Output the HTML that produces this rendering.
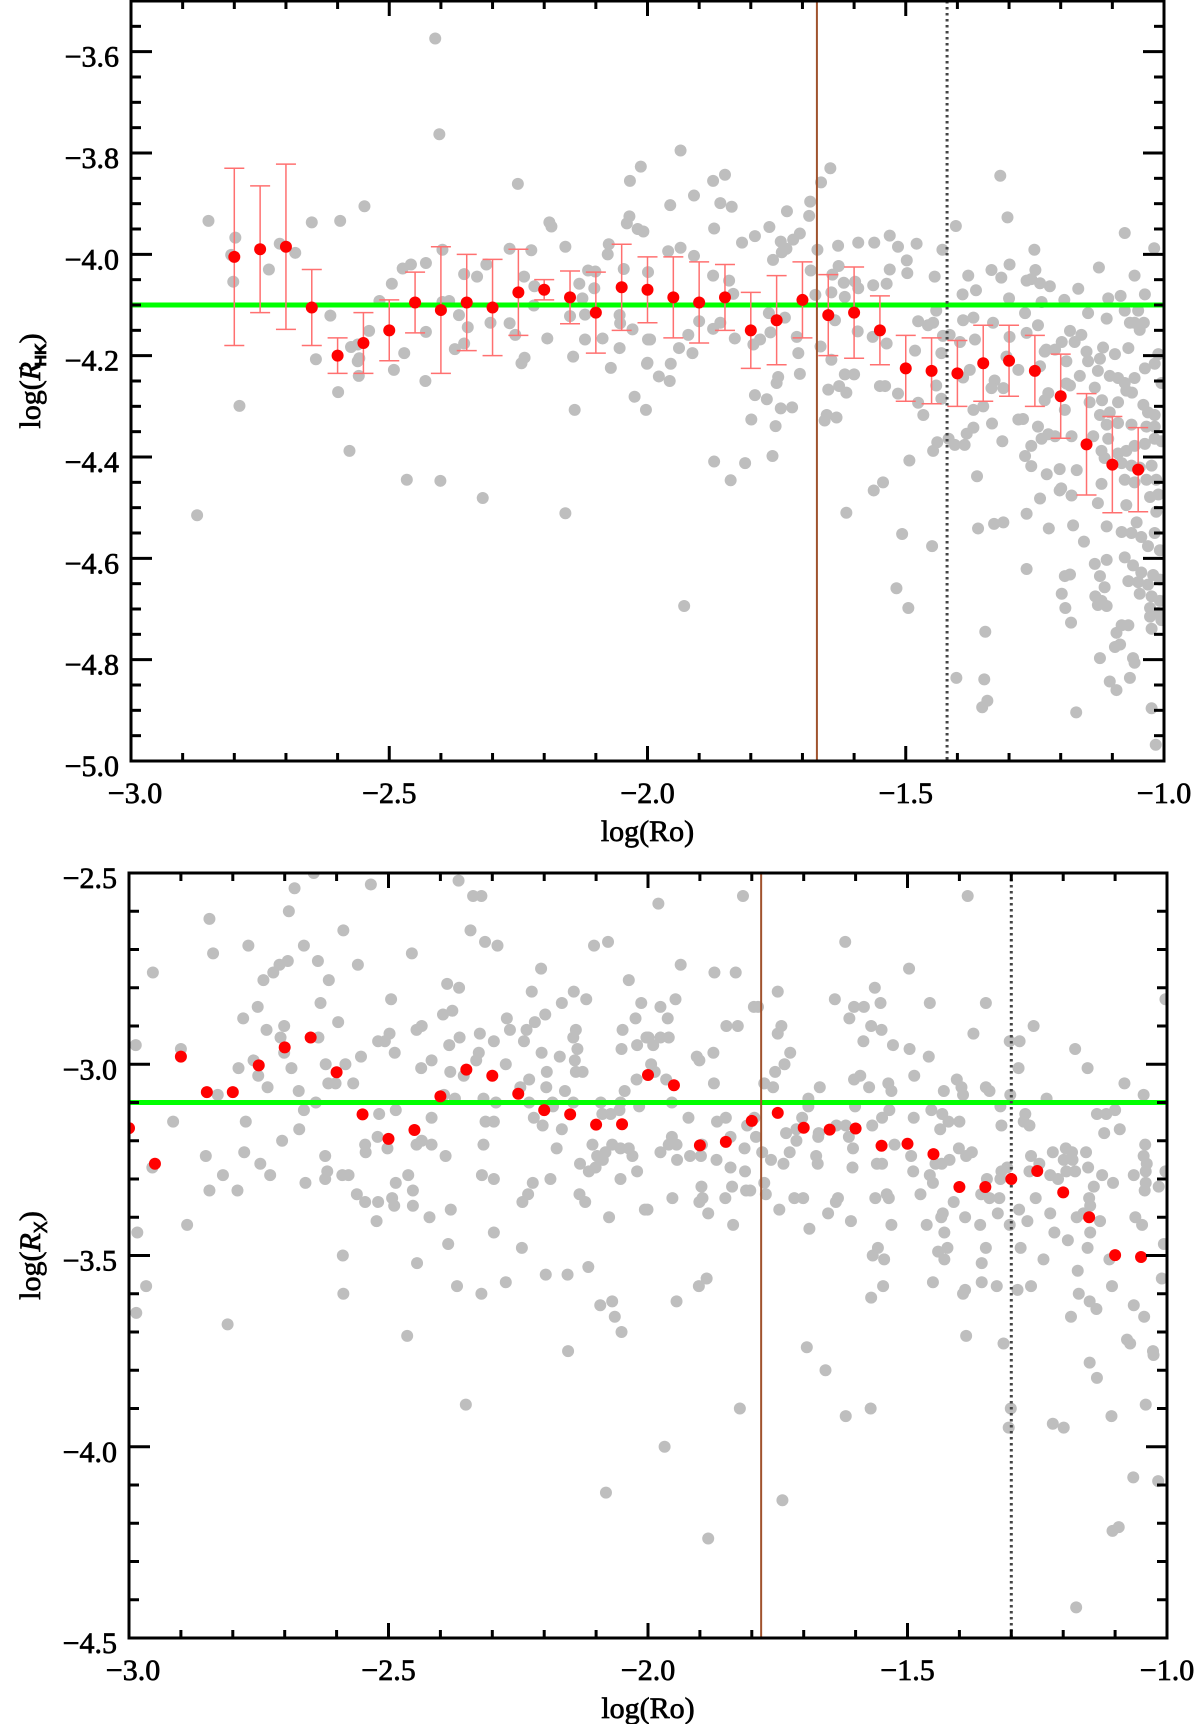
<!DOCTYPE html>
<html>
<head>
<meta charset="utf-8">
<style>
  html,body{margin:0;padding:0;background:#fff;}
  svg{display:block;}
  text{font-family:"Liberation Serif","DejaVu Serif",serif;fill:#000;}
  .lbl text, text.lbl{stroke:#000;stroke-width:0.7px;}
</style>
</head>
<body>
<svg id="chart" width="1200" height="1724" viewBox="0 0 1200 1724" xmlns="http://www.w3.org/2000/svg">
  <g id="panelTop"></g>
  <g id="panelBot"></g>
</svg>
<script>
// ---------------- TOP PANEL DATA: log(R'HK) vs log(Ro) ----------------
const topBinX = [-2.80,-2.75,-2.70,-2.65,-2.60,-2.55,-2.50,-2.45,-2.40,-2.35,-2.30,-2.25,-2.20,-2.15,-2.10,-2.05,-2.00,-1.95,-1.90,-1.85,-1.80,-1.75,-1.70,-1.65,-1.60,-1.55,-1.50,-1.45,-1.40,-1.35,-1.30,-1.25,-1.20,-1.15,-1.10,-1.05];
const topBinY = [-4.005,-3.99,-3.985,-4.105,-4.20,-4.175,-4.15,-4.095,-4.11,-4.095,-4.105,-4.075,-4.07,-4.085,-4.115,-4.065,-4.07,-4.085,-4.095,-4.085,-4.15,-4.13,-4.09,-4.12,-4.115,-4.15,-4.225,-4.23,-4.235,-4.215,-4.21,-4.23,-4.28,-4.375,-4.415,-4.425];
const topBinErr = [0.175,0.125,0.163,0.075,0.035,0.06,0.06,0.06,0.125,0.095,0.095,0.085,0.02,0.052,0.08,0.085,0.065,0.08,0.08,0.065,0.075,0.088,0.075,0.08,0.09,0.068,0.065,0.065,0.065,0.075,0.07,0.07,0.083,0.1,0.095,0.083];
const topGray = [
[-2.850,-3.934],[-2.872,-4.515],[-2.798,-3.967],[-2.806,-4.001],[-2.802,-4.054],[-2.79,-4.299],[-2.712,-3.979],[-2.733,-4.030],[-2.682,-3.997],[-2.65,-3.937],
[-2.595,-3.934],[-2.548,-3.905],[-2.614,-4.121],[-2.642,-4.207],[-2.599,-4.272],[-2.577,-4.388],[-2.574,-4.183],[-2.561,-4.178],[-2.558,-4.205],[-2.561,-4.211],
[-2.559,-4.240],[-2.539,-4.151],[-2.519,-4.092],[-2.495,-4.058],[-2.491,-4.228],[-2.474,-4.028],[-2.458,-4.020],[-2.429,-4.017],[-2.471,-4.195],[-2.466,-4.445],
[-2.429,-4.153],[-2.430,-4.250],[-2.411,-3.574],[-2.403,-3.763],[-2.397,-3.991],[-2.397,-4.094],[-2.384,-4.092],[-2.401,-4.447],[-2.365,-4.120],[-2.373,-4.187],
[-2.355,-4.039],[-2.330,-4.044],[-2.348,-4.144],[-2.355,-4.176],[-2.312,-4.020],[-2.304,-4.135],[-2.319,-4.481],[-2.267,-3.989],[-2.251,-3.861],[-2.239,-4.044],
[-2.225,-3.992],[-2.219,-4.063],[-2.220,-4.101],[-2.267,-4.136],[-2.256,-4.159],[-2.238,-4.204],[-2.244,-4.215],[-2.194,-4.166],[-2.190,-3.937],[-2.186,-3.945],
[-2.159,-3.985],[-2.150,-4.122],[-2.144,-4.202],[-2.141,-4.307],[-2.159,-4.511],[-2.132,-4.058],[-2.126,-4.087],[-2.121,-4.119],[-2.115,-4.032],[-2.101,-4.034],
[-2.103,-4.067],[-2.121,-4.168],[-2.087,-4.166],[-2.071,-4.224],[-2.075,-3.980],[-2.077,-4.000],[-2.054,-4.120],[-2.053,-4.136],[-2.054,-4.185],[-2.046,-4.029],
[-2.034,-3.855],[-2.013,-3.827],[-2.035,-3.925],[-2.040,-3.939],[-2.019,-3.950],[-2.008,-3.955],[-2.029,-4.148],[-2.025,-4.281],[-2.003,-4.307],[-2.001,-4.216],
[-1.999,-4.168],[-1.999,-4.035],
[-1.936,-3.795],[-1.995,-4.168],[-2.0,-4.214],[-1.978,-4.241],[-1.957,-4.250],[-1.955,-4.216],[-1.939,-4.185],[-1.956,-3.903],[-1.960,-3.994],[-1.936,-3.987],
[-1.910,-3.884],[-1.910,-4.003],[-1.900,-4.132],[-1.921,-4.159],[-1.913,-4.195],[-1.873,-3.855],[-1.850,-3.843],[-1.859,-3.899],[-1.837,-3.906],[-1.871,-3.949],
[-1.873,-4.042],[-1.842,-4.052],[-1.834,-4.078],[-1.873,-4.147],[-1.859,-4.135],[-1.831,-4.166],[-1.871,-4.409],[-1.839,-4.446],[-1.811,-4.412],[-1.929,-4.694],
[-1.817,-3.977],[-1.792,-3.964],[-1.764,-3.946],[-1.757,-4.011],[-1.765,-4.116],[-1.762,-4.154],[-1.782,-4.168],[-1.795,-4.178],[-1.792,-4.278],[-1.769,-4.286],
[-1.799,-4.326],[-1.750,-4.254],[-1.747,-4.242],[-1.752,-4.339],[-1.742,-4.304],[-1.720,-4.302],[-1.758,-4.398],[-1.742,-3.975],[-1.731,-3.989],[-1.740,-3.996],
[-1.718,-3.971],[-1.705,-3.959],[-1.730,-3.915],[-1.687,-3.924],[-1.685,-3.896],[-1.734,-4.125],[-1.711,-4.163],[-1.708,-4.195],[-1.705,-4.236],[-1.684,-4.032],
[-1.671,-3.991],[-1.675,-4.080],[-1.664,-3.858],[-1.646,-3.830],[-1.642,-4.040],[-1.631,-3.983],[-1.630,-4.023],[-1.620,-4.056],[-1.598,-4.054],[-1.644,-4.075],
[-1.618,-4.084],[-1.592,-3.977],[-1.592,-4.067],[-1.593,-4.152],[-1.637,-4.130],[-1.665,-4.182],[-1.644,-4.208],[-1.650,-4.267],[-1.629,-4.260],[-1.615,-4.273],
[-1.618,-4.237],[-1.600,-4.237],[-1.653,-4.317],[-1.657,-4.328],[-1.634,-4.322],[-1.615,-4.510],[-1.561,-3.977],[-1.531,-3.963],[-1.515,-3.985],[-1.498,-4.012],
[-1.497,-4.037],[-1.479,-3.979],[-1.531,-4.030],[-1.537,-4.058],[-1.563,-4.061],[-1.564,-4.163],[-1.537,-4.176],[-1.550,-4.260],[-1.540,-4.260],[-1.515,-4.275],
[-1.482,-4.190],[-1.476,-4.132],[-1.457,-4.140],[-1.447,-4.135],[-1.444,-4.044],[-1.429,-3.991],[-1.441,-4.111],[-1.428,-4.161],[-1.431,-4.195],[-1.441,-4.259],
[-1.431,-4.285],[-1.466,-4.317],[-1.476,-4.293],[-1.439,-4.371],[-1.447,-4.388],[-1.493,-4.407],[-1.544,-4.450],[-1.562,-4.466],[-1.507,-4.552],[-1.449,-4.576],
[-1.518,-4.659],[-1.495,-4.698],[-1.403,-3.944],[-1.379,-4.042],[-1.364,-4.071],[-1.390,-4.079],[-1.389,-4.130],[-1.369,-4.125],[-1.415,-4.159],[-1.395,-4.173],
[-1.366,-4.168],[-1.376,-4.228],[-1.389,-4.243],[-1.350,-4.300],[-1.369,-4.307],[-1.369,-4.342],[-1.382,-4.354],[-1.386,-4.376],[-1.405,-4.376],[-1.417,-4.364],
[-1.362,-4.438],[-1.360,-4.541],[-1.329,-4.532],[-1.311,-4.529],[-1.346,-4.745],[-1.402,-4.836],[-1.348,-4.839],[-1.352,-4.894],[-1.342,-4.881],[-1.317,-3.845],
[-1.303,-3.927],[-1.334,-4.031],[-1.315,-4.046],[-1.299,-4.020],[-1.300,-4.087],[-1.331,-4.135],[-1.299,-4.163],[-1.305,-4.202],[-1.328,-4.249],[-1.311,-4.264],
[-1.334,-4.264],[-1.333,-4.334],[-1.313,-4.369],[-1.282,-4.228],[-1.282,-4.326],[-1.273,-4.325],[-1.269,-4.398],[-1.257,-4.418],[-1.266,-4.512],[-1.266,-4.621],
[-1.251,-3.991],[-1.249,-4.031],[-1.257,-4.049],[-1.266,-4.052],[-1.240,-4.057],[-1.221,-4.063],[-1.237,-4.094],[-1.269,-4.116],[-1.244,-4.140],[-1.266,-4.155],
[-1.231,-4.192],[-1.228,-4.188],[-1.211,-4.188],[-1.198,-4.173],[-1.240,-4.221],[-1.231,-4.288],[-1.224,-4.274],[-1.244,-4.340],[-1.257,-4.378],[-1.237,-4.364],
[-1.224,-4.355],[-1.211,-4.359],[-1.227,-4.434],[-1.240,-4.482],[-1.223,-4.541],[-1.202,-4.424],[-1.202,-4.466],[-1.199,-4.462],[-1.189,-4.211],[-1.189,-4.255],
[-1.182,-4.151],[-1.166,-4.068],[-1.160,-4.159],[-1.173,-4.173],[-1.193,-4.090],[-1.147,-4.116],[-1.150,-4.192],[-1.147,-4.211],[-1.163,-4.240],[-1.182,-4.259],
[-1.192,-4.307],[-1.179,-4.359],[-1.169,-4.426],[-1.179,-4.476],[-1.176,-4.535],[-1.155,-4.567],[-1.192,-4.635],[-1.182,-4.632],[-1.198,-4.670],[-1.191,-4.698],
[-1.180,-4.727],[-1.170,-4.904],[-1.126,-4.026],[-1.111,-4.127],[-1.108,-4.087],[-1.084,-4.082],[-1.076,-3.958],[-1.057,-4.042],[-1.037,-4.079],[-1.019,-3.988],
[-1.076,-4.111],[-1.050,-4.111],[-1.057,-4.135],[-1.039,-4.135],[-1.066,-4.135],[-1.047,-4.149],[-1.118,-4.184],[-1.095,-4.197],[-1.069,-4.185],[-1.124,-4.206],
[-1.128,-4.230],[-1.105,-4.240],[-1.089,-4.244],[-1.076,-4.254],[-1.057,-4.244],[-1.037,-4.225],[-1.011,-4.197],[-1.018,-4.216],[-1.005,-4.254],[-1.134,-4.263],
[-1.144,-4.292],[-1.120,-4.288],[-1.089,-4.292],[-1.073,-4.269],[-1.062,-4.273],[-1.040,-4.297],[-1.031,-4.312],[-1.018,-4.317],[-1.124,-4.317],[-1.105,-4.312],
[-1.111,-4.336],[-1.089,-4.333],[-1.063,-4.336],[-1.034,-4.340],[-1.018,-4.340],[-1.137,-4.359],[-1.108,-4.364],[-1.121,-4.388],[-1.089,-4.393],[-1.073,-4.388],
[-1.057,-4.378],[-1.037,-4.374],[-1.018,-4.364],[-1.005,-4.369],[-1.115,-4.402],[-1.082,-4.412],[-1.063,-4.417],[-1.047,-4.421],[-1.024,-4.417],[-1.076,-4.445],
[-1.057,-4.450],[-1.034,-4.445],[-1.015,-4.445],[-1.121,-4.453],[-1.128,-4.491],[-1.073,-4.495],[-1.027,-4.479],[-1.011,-4.474],[-1.015,-4.508],[-1.053,-4.529],
[-1.111,-4.537],[-1.082,-4.548],[-1.063,-4.550],[-1.044,-4.558],[-1.018,-4.550],[-1.031,-4.576],[-1.008,-4.584],[-1.134,-4.611],[-1.111,-4.603],[-1.124,-4.635],
[-1.076,-4.598],[-1.060,-4.614],[-1.044,-4.628],[-1.021,-4.633],[-1.069,-4.645],[-1.050,-4.647],[-1.031,-4.652],[-1.008,-4.642],[-1.115,-4.657],[-1.133,-4.675],
[-1.121,-4.684],[-1.111,-4.694],[-1.128,-4.692],[-1.047,-4.670],[-1.024,-4.675],[-1.008,-4.684],[-1.027,-4.698],[-1.011,-4.708],[-1.027,-4.715],[-1.005,-4.722],
[-1.082,-4.732],[-1.069,-4.732],[-1.092,-4.747],[-1.024,-4.739],[-1.095,-4.775],[-1.085,-4.770],[-1.124,-4.797],[-1.060,-4.797],[-1.057,-4.806],[-1.105,-4.843],
[-1.092,-4.860],[-1.066,-4.836],[-1.024,-4.896],[-1.016,-4.968]
];
const topHLine = -4.1;
const topVLineSolid = -1.672;
const topVLineDotted = -1.42;
const topYTicks = [-5.0,-4.8,-4.6,-4.4,-4.2,-4.0,-3.8,-3.6];
const topYTickLabels = ["\u22125.0","\u22124.8","\u22124.6","\u22124.4","\u22124.2","\u22124.0","\u22123.8","\u22123.6"];
const xTicks = [-3.0,-2.5,-2.0,-1.5,-1.0];
const xTickLabels = ["\u22123.0","\u22122.5","\u22122.0","\u22121.5","\u22121.0"];

// ---------------- BOTTOM PANEL DATA: log(Rx) vs log(Ro) ----------------
const botBinX = [-3.00,-2.95,-2.90,-2.85,-2.80,-2.75,-2.70,-2.65,-2.60,-2.55,-2.50,-2.45,-2.40,-2.35,-2.30,-2.25,-2.20,-2.15,-2.10,-2.05,-2.00,-1.95,-1.90,-1.85,-1.80,-1.75,-1.70,-1.65,-1.60,-1.55,-1.50,-1.45,-1.40,-1.35,-1.30,-1.25,-1.20,-1.15,-1.10,-1.05];
const botBinY = [-3.167,-3.26,-2.98,-3.073,-3.073,-3.003,-2.956,-2.93,-3.021,-3.131,-3.195,-3.172,-3.084,-3.014,-3.03,-3.077,-3.12,-3.131,-3.158,-3.157,-3.028,-3.055,-3.212,-3.203,-3.148,-3.127,-3.166,-3.171,-3.168,-3.213,-3.208,-3.235,-3.321,-3.321,-3.30,-3.279,-3.335,-3.40,-3.499,-3.504];
const botGray = [
[-2.644,-2.50],[-2.681,-2.54],[-2.534,-2.53],[-2.365,-2.52],[-2.337,-2.56],[-2.321,-2.56],[-2.692,-2.60],[-2.845,-2.62],[-2.587,-2.65],[-2.342,-2.65],
[-2.314,-2.68],[-2.290,-2.69],[-2.104,-2.69],[-2.077,-2.68],[-2.770,-2.69],[-2.663,-2.69],[-2.838,-2.71],[-2.455,-2.71],[-2.954,-2.76],[-2.710,-2.74],
[-2.694,-2.73],[-2.722,-2.76],[-2.741,-2.78],[-2.636,-2.73],[-2.615,-2.78],[-2.559,-2.74],[-2.206,-2.75],[-2.037,-2.78],[-2.387,-2.79],[-2.364,-2.80],
[-2.224,-2.81],[-2.143,-2.81],[-2.119,-2.83],[-2.166,-2.84],[-2.013,-2.84],[-2.495,-2.83],[-2.631,-2.84],[-2.752,-2.85],[-2.780,-2.88],[-2.597,-2.89],
[-2.395,-2.87],[-2.377,-2.86],[-2.272,-2.88],[-2.198,-2.87],[-2.218,-2.89],[-2.024,-2.88],[-2.735,-2.91],[-2.701,-2.90],[-2.708,-2.93],[-2.635,-2.93],
[-2.446,-2.91],[-2.436,-2.90],[-2.266,-2.91],[-2.234,-2.91],[-2.139,-2.91],[-2.049,-2.91],[-2.498,-2.92],[-2.324,-2.92],[-2.987,-2.95],[-2.900,-2.96],
[-2.701,-2.97],[-2.520,-2.94],[-2.507,-2.94],[-2.488,-2.97],[-2.383,-2.95],[-2.363,-2.93],[-2.326,-2.97],[-2.297,-2.94],[-2.239,-2.94],[-2.205,-2.97],
[-2.144,-2.93],[-2.136,-2.96],[-2.170,-2.98],[-2.051,-2.96],[-2.021,-2.95],[-2.003,-2.93],[-2.760,-2.99],[-2.553,-2.98],[-2.417,-2.99],[-2.331,-2.99],
[-2.141,-2.99],[-2.789,-3.01],[-2.687,-3.01],[-2.621,-3.00],[-2.583,-3.00],[-2.437,-3.01],[-2.381,-3.02],[-2.274,-3.00],[-2.195,-3.02],[-2.139,-3.02],
[-2.126,-3.02],[-2.355,-3.03],[-2.751,-3.03],[-2.022,-3.04],[-2.733,-3.06],[-2.616,-3.05],[-2.602,-3.05],[-2.568,-3.05],[-2.246,-3.06],[-2.229,-3.04],
[-2.196,-3.06],[-2.160,-3.07],[-2.045,-3.07],[-2.829,-3.08],[-2.673,-3.07],[-2.393,-3.08],[-2.372,-3.09],[-2.317,-3.09],[-2.293,-3.10],[-2.229,-3.10],
[-2.184,-3.10],[-2.144,-3.10],[-2.091,-3.10],[-2.053,-3.10],[-2.640,-3.10],[-2.663,-3.12],[-2.518,-3.13],[-2.486,-3.12],[-2.183,-3.11],[-2.088,-3.13],
[-2.072,-3.13],[-2.055,-3.12],[-2.017,-3.11],[-2.220,-3.14],[-2.417,-3.14],[-2.915,-3.15],[-2.775,-3.15],[-2.313,-3.15],[-2.297,-3.15],[-2.203,-3.16],
[-2.672,-3.17],[-2.166,-3.17],[-2.705,-3.20],[-2.521,-3.19],[-2.446,-3.21],[-2.436,-3.20],[-2.417,-3.21],[-2.317,-3.21],[-2.107,-3.21],[-2.069,-3.21],
[-2.053,-3.22],[-2.037,-3.22],[-2.545,-3.21],[-2.544,-3.23],[-2.502,-3.22],[-2.176,-3.22],[-2.082,-3.23],[-2.778,-3.23],[-2.852,-3.24],[-2.622,-3.24],
[-2.390,-3.24],[-2.098,-3.24],[-2.030,-3.24],[-2.087,-3.25],[-2.101,-3.27],[-2.114,-3.28],[-2.131,-3.26],[-2.747,-3.26],[-2.955,-3.27],[-2.618,-3.28],
[-2.021,-3.28],[-2.819,-3.29],[-2.728,-3.29],[-2.589,-3.29],[-2.577,-3.29],[-2.462,-3.29],[-2.320,-3.29],[-2.622,-3.30],[-2.297,-3.30],[-2.188,-3.30],
[-2.053,-3.30],[-2.660,-3.31],[-2.486,-3.31],[-2.222,-3.31],[-2.845,-3.33],[-2.791,-3.33],[-2.453,-3.33],[-2.561,-3.34],[-2.231,-3.34],[-2.132,-3.34],
[-2.545,-3.36],[-2.520,-3.36],[-2.493,-3.35],[-2.242,-3.36],[-2.121,-3.36],[-2.489,-3.37],[-2.453,-3.37],[-2.380,-3.38],[-2.006,-3.38],[-2.421,-3.40],
[-2.075,-3.40],[-2.523,-3.41],[-2.888,-3.42],[-2.984,-3.44],[-2.297,-3.44],[-2.385,-3.47],[-2.243,-3.48],[-2.588,-3.50],[-2.445,-3.52],[-2.115,-3.53],
[-2.197,-3.55],[-2.155,-3.55],[-2.274,-3.57],[-2.967,-3.58],[-2.368,-3.58],[-2.587,-3.60],[-2.321,-3.60],[-2.092,-3.63],[-2.069,-3.62],[-2.064,-3.66],
[-2.986,-3.65],[-2.810,-3.68],[-2.051,-3.70],[-2.464,-3.71],[-2.154,-3.75],[-2.351,-3.89],[-2.081,-4.12],
[-1.980,-2.58],[-1.817,-2.56],[-1.384,-2.56],[-1.620,-2.68],[-1.937,-2.74],[-1.872,-2.76],[-1.831,-2.76],[-1.497,-2.75],[-1.563,-2.80],[-1.750,-2.81],
[-1.976,-2.85],[-1.947,-2.83],[-1.796,-2.85],[-1.788,-2.85],[-1.640,-2.83],[-1.603,-2.85],[-1.584,-2.85],[-1.552,-2.84],[-1.457,-2.84],[-1.349,-2.84],
[-1.962,-2.88],[-1.612,-2.88],[-1.849,-2.90],[-1.827,-2.90],[-1.743,-2.90],[-1.750,-2.92],[-1.570,-2.90],[-1.550,-2.91],[-1.373,-2.92],[-1.257,-2.90],
[-1.999,-2.93],[-1.976,-2.93],[-1.960,-2.93],[-1.990,-2.95],[-1.585,-2.94],[-1.528,-2.95],[-1.303,-2.94],[-1.284,-2.94],[-1.177,-2.96],[-1.874,-2.97],
[-1.726,-2.97],[-1.496,-2.96],[-1.459,-2.98],[-1.906,-2.98],[-1.901,-2.99],[-1.737,-3.00],[-1.994,-3.00],[-1.755,-3.02],[-1.286,-3.01],[-1.153,-3.01],
[-1.987,-3.02],[-1.591,-3.03],[-1.487,-3.03],[-1.965,-3.04],[-1.603,-3.04],[-1.405,-3.04],[-1.873,-3.05],[-1.776,-3.05],[-1.759,-3.06],[-1.669,-3.06],
[-1.574,-3.06],[-1.537,-3.05],[-1.531,-3.07],[-1.349,-3.06],[-1.342,-3.07],[-1.082,-3.05],[-1.430,-3.07],[-1.396,-3.06],[-1.393,-3.08],[-1.045,-3.08],
[-1.954,-3.10],[-1.691,-3.09],[-1.302,-3.08],[-1.232,-3.09],[-1.691,-3.11],[-1.601,-3.11],[-1.321,-3.11],[-1.535,-3.12],[-1.454,-3.12],[-1.433,-3.13],
[-1.273,-3.13],[-1.135,-3.13],[-1.117,-3.13],[-1.100,-3.12],[-1.922,-3.14],[-1.867,-3.15],[-1.850,-3.14],[-1.795,-3.14],[-1.703,-3.14],[-1.549,-3.14],
[-1.488,-3.14],[-1.421,-3.15],[-1.400,-3.15],[-1.276,-3.15],[-1.265,-3.16],[-1.809,-3.16],[-1.637,-3.16],[-1.619,-3.16],[-1.568,-3.16],[-1.319,-3.16],
[-1.437,-3.17],[-1.091,-3.17],[-1.734,-3.18],[-1.714,-3.17],[-1.671,-3.18],[-1.121,-3.18],[-1.954,-3.19],[-1.841,-3.19],[-1.792,-3.19],[-1.672,-3.19],
[-1.613,-3.19],[-1.714,-3.20],[-1.960,-3.21],[-1.945,-3.21],[-1.896,-3.21],[-1.525,-3.21],[-1.042,-3.21],[-1.814,-3.22],[-1.605,-3.22],[-1.401,-3.22],
[-1.195,-3.22],[-1.976,-3.23],[-1.780,-3.23],[-1.727,-3.23],[-1.376,-3.23],[-1.220,-3.23],[-1.183,-3.23],[-1.156,-3.23],[-1.919,-3.24],[-1.898,-3.24],
[-1.676,-3.24],[-1.493,-3.24],[-1.387,-3.24],[-1.262,-3.24],[-1.045,-3.24],[-1.944,-3.25],[-1.868,-3.25],[-1.763,-3.25],[-1.419,-3.25],[-1.199,-3.25],
[-1.182,-3.25],[-1.739,-3.26],[-1.673,-3.26],[-1.559,-3.26],[-1.549,-3.26],[-1.446,-3.26],[-1.434,-3.26],[-1.246,-3.26],[-1.039,-3.26],[-1.841,-3.27],
[-1.606,-3.27],[-1.152,-3.27],[-1.813,-3.28],[-1.489,-3.28],[-1.319,-3.28],[-1.308,-3.27],[-1.265,-3.28],[-1.194,-3.28],[-1.177,-3.28],[-1.041,-3.28],
[-1.003,-3.28],[-1.457,-3.29],[-1.225,-3.29],[-1.210,-3.30],[-1.125,-3.29],[-1.064,-3.29],[-1.347,-3.30],[-1.321,-3.30],[-1.776,-3.31],[-1.451,-3.31],
[-1.104,-3.31],[-1.041,-3.31],[-1.016,-3.32],[-1.897,-3.32],[-1.838,-3.32],[-1.141,-3.32],[-1.811,-3.33],[-1.803,-3.33],[-1.043,-3.33],[-1.773,-3.34],
[-1.475,-3.34],[-1.358,-3.34],[-1.953,-3.35],[-1.851,-3.35],[-1.895,-3.35],[-1.718,-3.35],[-1.701,-3.35],[-1.634,-3.35],[-1.562,-3.35],[-1.540,-3.34],
[-1.536,-3.35],[-1.342,-3.35],[-1.323,-3.35],[-1.253,-3.35],[-1.150,-3.35],[-1.901,-3.36],[-1.638,-3.36],[-1.411,-3.36],[-1.148,-3.37],[-2.001,-3.38],
[-1.747,-3.38],[-1.285,-3.38],[-1.653,-3.39],[-1.884,-3.39],[-1.432,-3.39],[-1.326,-3.39],[-1.225,-3.39],[-1.161,-3.39],[-1.435,-3.40],[-1.389,-3.40],
[-1.174,-3.40],[-1.061,-3.40],[-1.609,-3.41],[-1.269,-3.41],[-1.129,-3.41],[-1.836,-3.42],[-1.531,-3.42],[-1.463,-3.42],[-1.360,-3.42],[-1.303,-3.42],
[-1.048,-3.42],[-1.689,-3.43],[-1.429,-3.44],[-1.217,-3.44],[-1.148,-3.44],[-1.191,-3.46],[-1.006,-3.47],[-1.557,-3.48],[-1.441,-3.49],[-1.423,-3.48],
[-1.349,-3.48],[-1.282,-3.48],[-1.153,-3.48],[-1.567,-3.50],[-1.545,-3.51],[-1.429,-3.51],[-1.238,-3.51],[-1.111,-3.51],[-1.357,-3.52],[-1.172,-3.54],
[-1.887,-3.56],[-1.902,-3.58],[-1.451,-3.57],[-1.357,-3.57],[-1.010,-3.56],[-1.547,-3.58],[-1.328,-3.58],[-1.262,-3.58],[-1.106,-3.58],[-1.288,-3.59],
[-1.389,-3.59],[-1.393,-3.60],[-1.170,-3.60],[-1.570,-3.61],[-1.945,-3.62],[-1.149,-3.62],[-1.064,-3.63],[-1.136,-3.64],[-1.185,-3.66],[-1.044,-3.66],
[-1.387,-3.71],[-1.077,-3.72],[-1.071,-3.73],[-1.315,-3.73],[-1.694,-3.74],[-1.027,-3.75],[-1.026,-3.76],[-1.149,-3.78],[-1.658,-3.80],[-1.135,-3.82],
[-1.823,-3.90],[-1.571,-3.90],[-1.301,-3.90],[-1.041,-3.89],[-1.619,-3.92],[-1.107,-3.92],[-1.220,-3.94],[-1.199,-3.95],[-1.305,-3.95],[-1.968,-4.00],
[-1.065,-4.08],[-1.017,-4.09],[-1.741,-4.14],[-1.105,-4.22],[-1.093,-4.21],[-1.884,-4.24],[-1.175,-4.42],[-1.003,-2.83]
];
const botHLine = -3.1;
const botVLineSolid = -1.782;
const botVLineDotted = -1.30;
const botYTicks = [-4.5,-4.0,-3.5,-3.0,-2.5];
const botYTickLabels = ["\u22124.5","\u22124.0","\u22123.5","\u22123.0","\u22122.5"];

// ---------------- RENDERING ----------------
const NS = "http://www.w3.org/2000/svg";
function mk(tag, attrs, parent){
  const e = document.createElementNS(NS, tag);
  for (const k in attrs) e.setAttribute(k, attrs[k]);
  parent.appendChild(e);
  return e;
}

function drawPanel(g, cfg){
  const L=cfg.left, R=cfg.right, T=cfg.top, B=cfg.bottom;
  const sx = v => L + (v - cfg.xmin)/(cfg.xmax - cfg.xmin)*(R-L);
  const sy = v => B - (v - cfg.ymin)/(cfg.ymax - cfg.ymin)*(B-T);

  const clipId = cfg.id + "-clip";
  const defs = mk("defs", {}, g);
  const cp = mk("clipPath", {id: clipId}, defs);
  mk("rect", {x:L, y:T, width:R-L, height:B-T}, cp);

  const plot = mk("g", {"clip-path":"url(#"+clipId+")"}, g);
  
  

  const grayG = mk("g", {fill:"#bebebe"}, plot);
  
  
  cfg.gray.forEach(p => {
    const c = mk("ellipse", {cx:sx(p[0]), cy:sy(p[1]), rx:6, ry:6}, grayG);
    
    
  });

  const hl = mk("line", {x1:L, x2:R, y1:sy(cfg.hline), y2:sy(cfg.hline), stroke:"#00ff00", "stroke-width":5}, plot);
  
  

  if (cfg.err){
    const eg = mk("g", {stroke:"#ff7070", "stroke-width":1.5, fill:"none"}, plot);
    
    
    cfg.binX.forEach((x,i) => {
      const cx = sx(x), y1 = sy(cfg.binY[i]+cfg.err[i]), y2 = sy(cfg.binY[i]-cfg.err[i]);
      mk("line", {x1:cx, x2:cx, y1:y1, y2:y2}, eg);
      mk("line", {x1:cx-10, x2:cx+10, y1:y1, y2:y1}, eg);
      mk("line", {x1:cx-10, x2:cx+10, y1:y2, y2:y2}, eg);
    });
  }

  const vs = mk("line", {x1:sx(cfg.vSolid), x2:sx(cfg.vSolid), y1:T, y2:B, stroke:"#a0522d", "stroke-width":2}, plot);
  
  
  const vd = mk("line", {x1:sx(cfg.vDot), x2:sx(cfg.vDot), y1:T, y2:B, stroke:"#444", "stroke-width":3, "stroke-dasharray":"2.5,3.5"}, plot);
  
  

  const rg = mk("g", {fill:"#ff0000"}, plot);
  
  
  cfg.binX.forEach((x,i) => {
    const c = mk("ellipse", {cx:sx(x), cy:sy(cfg.binY[i]), rx:6, ry:6}, rg);
    
    
  });

  const frame = mk("rect", {x:L, y:T, width:R-L, height:B-T, fill:"none", stroke:"#000", "stroke-width":3}, g);
  
  

  const tg = mk("g", {stroke:"#000", "stroke-width":3}, g);
  
  
  for (let k=0; k<=Math.round((cfg.xmax-cfg.xmin)/0.1); k++){
    const v = cfg.xmin + k*0.1;
    const major = Math.abs(v*2 - Math.round(v*2)) < 1e-6;
    const len = major ? 15 : 8;
    const x = sx(v);
    mk("line", {x1:x, x2:x, y1:B, y2:B-len}, tg);
    mk("line", {x1:x, x2:x, y1:T, y2:T+len}, tg);
  }
  const ny = Math.round((cfg.ymax-cfg.ymin)/cfg.yminor);
  for (let k=0; k<=ny; k++){
    const v = cfg.ymin + k*cfg.yminor;
    const major = (k % cfg.yMajorEvery) === 0;
    const len = major ? 21 : 10;
    const y = sy(v);
    mk("line", {x1:L, x2:L+len, y1:y, y2:y}, tg);
    mk("line", {x1:R, x2:R-len, y1:y, y2:y}, tg);
  }

  const xl = mk("g", {"font-size":30, "text-anchor":"middle", "class":"lbl"}, g);
  
  
  xTicks.forEach((v,i) => {
    const t = mk("text", {x:sx(v)+ (i===0?4:0), y:B+42}, xl);
    t.textContent = xTickLabels[i];
  });
  const yl = mk("g", {"font-size":30, "text-anchor":"end", "class":"lbl"}, g);
  
  
  cfg.yTicks.forEach((v,i) => {
    const t = mk("text", {x:L-12, y:sy(v)+15}, yl);
    t.textContent = cfg.yTickLabels[i];
  });

  const xt = mk("text", {x:(L+R)/2, y:B+80, "font-size":30, "text-anchor":"middle", "class":"lbl"}, g);
  
  
  xt.textContent = "log(Ro)";

  const cy = (T+B)/2;
  const yt = mk("text", {x:0, y:0, "font-size":30, "text-anchor":"middle", "class":"lbl", transform:"translate(40,"+cy+") rotate(-90)"}, g);
  
  
  yt.innerHTML = cfg.yTitle;
}

drawPanel(document.getElementById("panelTop"), {
  id:"top", left:131, right:1164, top:1, bottom:761,
  xmin:-3, xmax:-1, ymin:-5.0, ymax:-3.5, yminor:0.05, yMajorEvery:4,
  gray: topGray, binX: topBinX, binY: topBinY, err: topBinErr,
  hline: topHLine, vSolid: topVLineSolid, vDot: topVLineDotted,
  yTicks: topYTicks, yTickLabels: topYTickLabels,
  yTitle: 'log(<tspan font-style="italic">R</tspan><tspan font-size="16" dy="-10" dx="-8">\u2032</tspan><tspan font-size="16" font-family="Liberation Sans, sans-serif" font-weight="bold" dy="16">HK</tspan><tspan dy="-6">)</tspan>'
});

drawPanel(document.getElementById("panelBot"), {
  id:"bot", left:129, right:1167, top:873, bottom:1638,
  xmin:-3, xmax:-1, ymin:-4.5, ymax:-2.5, yminor:0.1, yMajorEvery:5,
  gray: botGray, binX: botBinX, binY: botBinY, err: null,
  hline: botHLine, vSolid: botVLineSolid, vDot: botVLineDotted,
  yTicks: botYTicks, yTickLabels: botYTickLabels,
  yTitle: 'log(<tspan font-style="italic">R</tspan><tspan font-size="18" font-family="Liberation Sans, sans-serif" dy="7">X</tspan><tspan dy="-7">)</tspan>'
});
</script>
</body>
</html>
